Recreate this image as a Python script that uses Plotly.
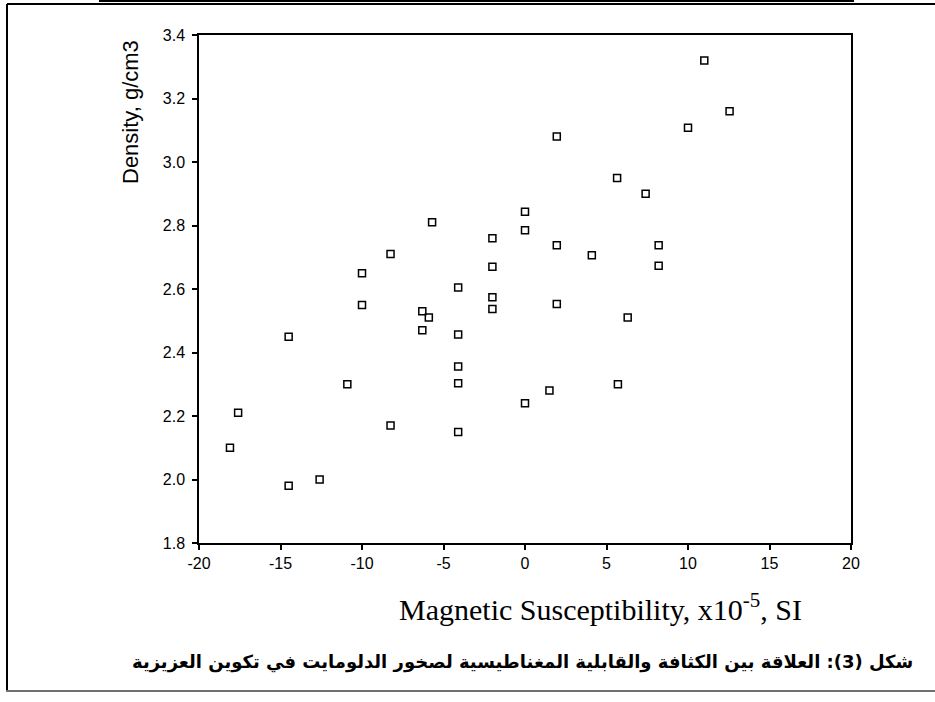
import plotly.graph_objects as go

# Data (Magnetic susceptibility x1e-5 SI, Density g/cm3)
susceptibility = [-18.1, -17.6, -14.5, -14.5, -12.6, -10.9, -10.0, -10.0, -8.25, -8.25,
                  -6.3, -5.9, -6.3, -5.7, -4.1, -4.1, -4.1, -4.1, -4.1,
                  -2.0, -2.0, -2.0, -2.0, 0.0, 0.0, 0.0, 1.5, 1.95, 1.95, 1.95,
                  4.1, 5.65, 5.7, 6.3, 7.4, 8.2, 8.2, 10.0, 11.0, 12.55]
density = [2.10, 2.21, 2.45, 1.98, 2.00, 2.30, 2.65, 2.55, 2.71, 2.17,
           2.53, 2.51, 2.47, 2.81, 2.605, 2.457, 2.356, 2.303, 2.15,
           2.76, 2.67, 2.574, 2.537, 2.843, 2.785, 2.24, 2.28, 3.08, 2.738, 2.553,
           2.706, 2.95, 2.30, 2.51, 2.90, 2.738, 2.673, 3.108, 3.32, 3.16]

x_ticks = [-20, -15, -10, -5, 0, 5, 10, 15, 20]
y_ticks = [1.8, 2.0, 2.2, 2.4, 2.6, 2.8, 3.0, 3.2, 3.4]

x_title = "Magnetic Susceptibility, x10<sup>-5</sup>, SI"
y_title = "Density, g/cm3"
caption = "شكل (3): العلاقة بين الكثافة والقابلية المغناطيسية لصخور الدلومايت في تكوين العزيزية"

W, H = 935, 702
L, R, T, B = 199, 84, 35, 159
PW, PH = W - L - R, H - T - B


def px(xp):
    return (xp - L) / PW


def py(yp):
    return (H - B - yp) / PH


fig = go.Figure()
fig.add_trace(go.Scatter(
    x=susceptibility, y=density, mode="markers",
    marker=dict(symbol="square-open", size=7, color="black",
                line=dict(width=1.5, color="black")),
    showlegend=False, hoverinfo="x+y"))

axis_font = dict(family="Liberation Sans, Arial, sans-serif", size=16, color="black")
fig.update_xaxes(range=[-20, 20], tickvals=x_ticks, ticktext=[str(v) for v in x_ticks],
                 showgrid=False, zeroline=False, showline=True, linecolor="black",
                 linewidth=1.5, mirror=True, ticks="outside", ticklen=5, tickwidth=1.5,
                 tickcolor="black", tickfont=axis_font)
fig.update_yaxes(range=[1.8, 3.4], tickvals=y_ticks, ticktext=[f"{v:.1f}" for v in y_ticks],
                 showgrid=False, zeroline=False, showline=True, linecolor="black",
                 linewidth=1.5, mirror=True, ticks="outside", ticklen=5, tickwidth=1.5,
                 tickcolor="black", tickfont=axis_font, ticklabelstandoff=4)

shapes = [
    dict(type="line", xref="paper", yref="paper", x0=px(99), x1=px(854), y0=py(0.5), y1=py(0.5),
         line=dict(color="black", width=3)),
    dict(type="line", xref="paper", yref="paper", x0=px(7), x1=px(940), y0=py(4), y1=py(4),
         line=dict(color="black", width=2)),
    dict(type="line", xref="paper", yref="paper", x0=px(7), x1=px(7), y0=py(4), y1=py(691),
         line=dict(color="black", width=2)),
    dict(type="line", xref="paper", yref="paper", x0=px(6), x1=px(940), y0=py(691), y1=py(691),
         line=dict(color="#707070", width=2)),
]

annotations = [
    dict(text=y_title, xref="paper", yref="paper", x=px(131), y=py(112), showarrow=False,
         textangle=-90, font=dict(family="Liberation Sans, Arial, sans-serif", size=22, color="black"),
         xanchor="center", yanchor="middle"),
    dict(text=x_title, xref="paper", yref="paper", x=px(600), y=py(607), showarrow=False,
         font=dict(family="Liberation Serif, Times New Roman, serif", size=30, color="black"),
         xanchor="center", yanchor="middle"),
    dict(text="<b>" + caption + "</b>", xref="paper", yref="paper", x=px(522), y=py(662),
         showarrow=False,
         font=dict(family="DejaVu Sans, Arial, sans-serif", size=18, color="black"),
         xanchor="center", yanchor="middle"),
]

fig.update_layout(width=W, height=H, margin=dict(l=L, r=R, t=T, b=B),
                  paper_bgcolor="white", plot_bgcolor="white",
                  shapes=shapes, annotations=annotations)

fig.write_html("out.html")
